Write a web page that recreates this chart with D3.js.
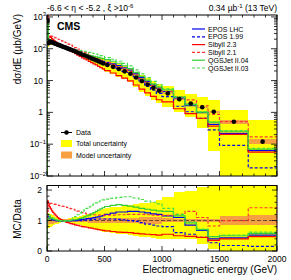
<!DOCTYPE html>
<html>
<head>
<meta charset="utf-8">
<script src="https://cdn.jsdelivr.net/npm/d3@7"></script>
<style>
	body { margin: 0; background: #fff; }
	svg text { font-family: "Liberation Sans", Arial, sans-serif; fill: #000; }
</style>
</head>
<body>
<div id="chart" style="width:291px;height:280px;"></div>
<script>
"use strict"

// bin edges (GeV)
const binEdges = [0,10,20,30,40,50,60,70,80,90,100,110,120,130,140,150,160,170,180,190,200,
	220,240,260,280,300,320,340,360,380,400,420,440,460,480,500,
	550,600,650,700,750,800,850,900,950,1000,
	1100,1200,1300,1400,1500,1750,2000];

// measured dsigma/dE (ub/GeV)
const dataValues = [750,150,168,164,158,153,148,143,139,134,130,126,122,118,114,111,107,104,100,97,
	93,87,81,75,70,65,61,57,53,49,46,43,40,37,34.5,
	31,27,23,19.5,16.3,12.5,9.6,7.5,5.9,4.8,
	3.9,2.6,1.9,1.45,1.05,
	0.51,0.12];

// total and model uncertainty, as ratio to data
const totalUp = [1.28,1.25,1.23,1.21,1.19,1.17,1.15,1.13,1.11,1.1,1.08,1.07,1.06,1.05,1.05,1.05,1.05,1.06,1.07,1.08,
	1.09,1.1,1.12,1.13,1.15,1.17,1.19,1.21,1.23,1.25,1.27,1.3,1.32,1.35,1.37,
	1.4,1.43,1.46,1.5,1.52,1.54,1.56,1.58,1.62,1.66,
	1.78,1.95,1.98,2.09,2.3,
	2.4,4.7];
const totalDown = [0.72,0.75,0.77,0.8,0.82,0.84,0.86,0.88,0.89,0.9,0.92,0.93,0.94,0.95,0.95,0.95,0.95,0.94,0.93,0.92,
	0.91,0.9,0.88,0.87,0.85,0.83,0.81,0.79,0.77,0.75,0.73,0.7,0.68,0.65,0.63,
	0.61,0.59,0.57,0.56,0.54,0.5,0.47,0.45,0.42,0.4,
	0.39,0.39,0.39,0.22,0.06,
	0,0];
const modelUp = [1.12,1.12,1.11,1.1,1.09,1.08,1.07,1.06,1.05,1.05,1.05,1.04,1.04,1.04,1.04,1.04,1.04,1.04,1.04,1.04,
	1.05,1.05,1.05,1.05,1.06,1.06,1.06,1.06,1.07,1.07,1.07,1.07,1.08,1.08,1.08,
	1.08,1.08,1.09,1.09,1.09,1.09,1.1,1.1,1.1,1.1,
	1.07,1.06,1.05,1.05,1.06,
	1.16,1.18];
const modelDown = [0.85,0.86,0.87,0.88,0.89,0.9,0.91,0.92,0.93,0.94,0.95,0.95,0.96,0.96,0.96,0.96,0.96,0.96,0.96,0.96,
	0.95,0.95,0.95,0.95,0.94,0.94,0.94,0.94,0.93,0.93,0.93,0.93,0.92,0.92,0.92,
	0.92,0.92,0.91,0.91,0.91,0.91,0.9,0.9,0.9,0.9,
	0.94,0.95,0.96,0.96,0.94,
	0.86,0.85];

// MC / data
const eposLhcRatio = [1.15,1.12,1.08,1.06,1.04,1.03,1.02,1.01,1.0,1.0,0.99,0.98,0.98,0.97,0.97,0.97,0.98,0.98,0.99,0.99,
	1.0,1.0,1.01,1.02,1.03,1.04,1.05,1.06,1.07,1.08,1.1,1.11,1.12,1.14,1.16,
	1.2,1.24,1.28,1.28,1.3,1.3,1.28,1.25,1.22,1.2,
	1.15,1.1,0.85,0.68,0.4,
	0.43,0.52];
const epos199Ratio = [1.1,1.08,1.06,1.04,1.03,1.02,1.01,1.0,1.0,1.0,1.0,1.0,1.0,0.99,0.99,0.99,1.0,1.0,1.0,1.0,
	1.0,1.0,1.0,1.0,1.0,1.01,1.01,1.02,1.02,1.03,1.04,1.05,1.05,1.05,1.05,
	1.05,1.05,1.04,1.02,1.0,0.97,0.93,0.88,0.85,0.82,
	0.8,0.6,0.55,0.45,0.27,
	0.18,0.15];
const sibyll23Ratio = [1.65,1.55,1.45,1.38,1.32,1.27,1.22,1.18,1.14,1.1,1.07,1.05,1.03,1.01,0.99,0.97,0.95,0.94,0.93,0.92,
	0.9,0.88,0.86,0.84,0.82,0.8,0.79,0.78,0.76,0.75,0.73,0.72,0.7,0.69,0.68,
	0.66,0.64,0.62,0.61,0.6,0.58,0.56,0.55,0.54,0.52,
	0.55,0.5,0.48,0.45,0.35,
	0.4,0.47];
const sibyll21Ratio = [1.3,1.5,1.55,1.56,1.56,1.55,1.54,1.53,1.52,1.51,1.5,1.49,1.48,1.47,1.46,1.45,1.44,1.43,1.42,1.41,
	1.39,1.37,1.34,1.31,1.28,1.26,1.24,1.22,1.21,1.2,1.19,1.19,1.18,1.18,1.18,
	1.18,1.18,1.19,1.19,1.2,1.2,1.2,1.19,1.18,1.17,
	1.17,1.2,1.3,1.1,0.82,
	1.0,1.42];
const qgsjet04Ratio = [1.0,1.08,1.1,1.08,1.06,1.05,1.04,1.03,1.02,1.01,1.0,1.0,1.0,0.99,0.99,0.99,0.99,1.0,1.0,1.0,
	1.01,1.02,1.03,1.05,1.07,1.09,1.12,1.15,1.18,1.22,1.26,1.3,1.34,1.38,1.42,
	1.46,1.5,1.52,1.5,1.47,1.44,1.4,1.37,1.34,1.32,
	1.3,1.15,0.92,0.7,0.47,
	0.5,0.58];
const qgsjet03Ratio = [1.2,1.18,1.15,1.12,1.1,1.08,1.06,1.04,1.02,1.01,1.0,0.99,0.98,0.97,0.97,0.97,0.98,0.98,0.99,1.0,
	1.03,1.08,1.13,1.19,1.25,1.3,1.35,1.4,1.45,1.5,1.54,1.58,1.62,1.65,1.68,
	1.7,1.73,1.76,1.78,1.78,1.74,1.69,1.64,1.6,1.55,
	1.4,1.2,0.95,0.72,0.47,
	0.52,0.62];

const models = [
	{name: "EPOS LHC", ratio: eposLhcRatio, color: "#0000ee", dash: null},
	{name: "EPOS 1.99", ratio: epos199Ratio, color: "#0000ee", dash: "3,2"},
	{name: "Sibyll 2.3", ratio: sibyll23Ratio, color: "#ff0000", dash: null},
	{name: "Sibyll 2.1", ratio: sibyll21Ratio, color: "#ff3333", dash: "3,2"},
	{name: "QGSJet II.04", ratio: qgsjet04Ratio, color: "#33cc33", dash: null},
	{name: "QGSJet II.03", ratio: qgsjet03Ratio, color: "#44dd44", dash: "3,2"},
];

const xTicks = [0, 500, 1000, 1500, 2000];
const logTicks = [{v: 1e3, b: "10", e: "3"}, {v: 1e2, b: "10", e: "2"}, {v: 10, b: "10", e: null},
	{v: 1, b: "1", e: null}, {v: 0.1, b: "10", e: "\u22121"}, {v: 0.01, b: "10", e: "\u22122"}];
const ratioTicks = [0, 1, 2];

const bins = dataValues.map((v, i) => ({
	lo: binEdges[i], hi: binEdges[i + 1], val: v,
	tUp: totalUp[i], tDn: totalDown[i], mUp: modelUp[i], mDn: modelDown[i]
}));

const svg = d3.select("#chart").append("svg").attr("width", 291).attr("height", 280);

const x = d3.scaleLinear().domain([0, 2000]).range([47, 277]);
const yTop = d3.scaleLog().domain([0.01, 1150]).range([176, 15]).clamp(true);
const yRat = d3.scaleLinear().domain([0, 2.15]).range([251, 185.5]).clamp(true);

const defs = svg.append("defs");
defs.append("clipPath").attr("id", "clipTop").append("rect")
	.attr("x", 47).attr("y", 15).attr("width", 230).attr("height", 161);
defs.append("clipPath").attr("id", "clipRat").append("rect")
	.attr("x", 47).attr("y", 185.5).attr("width", 230).attr("height", 65.5);

function stepPath(vals, y, base) {
	let p = `M${x(binEdges[0])},${base}`;
	vals.forEach((v, i) => {
		p += `L${x(binEdges[i])},${y(v)}L${x(binEdges[i + 1])},${y(v)}`;
	});
	p += `L${x(binEdges[binEdges.length - 1])},${base}`;
	return p;
}

function drawPanel(g, y, toVal, base) {
	g.selectAll(".tot").data(bins).enter().append("rect")
		.attr("x", d => x(d.lo)).attr("width", d => x(d.hi) - x(d.lo))
		.attr("y", d => y(toVal(d, d.tUp)))
		.attr("height", d => y(Math.max(toVal(d, d.tDn), 1e-6)) - y(toVal(d, d.tUp)))
		.attr("fill", "#ffff00").attr("shape-rendering", "crispEdges");
	g.selectAll(".mod").data(bins).enter().append("rect")
		.attr("x", d => x(d.lo)).attr("width", d => x(d.hi) - x(d.lo))
		.attr("y", d => y(toVal(d, d.mUp)))
		.attr("height", d => y(toVal(d, d.mDn)) - y(toVal(d, d.mUp)))
		.attr("fill", "#f7a042").attr("shape-rendering", "crispEdges");
}

// ---- top panel
const gTop = svg.append("g").attr("clip-path", "url(#clipTop)");
drawPanel(gTop, yTop, (d, r) => d.val * r);
models.forEach(m => {
	gTop.append("path")
		.attr("d", stepPath(m.ratio.map((r, i) => r * dataValues[i]), yTop, 176))
		.attr("fill", "none").attr("stroke", m.color).attr("stroke-width", 1.2)
		.attr("stroke-dasharray", m.dash);
});
gTop.selectAll(".pt").data(bins).enter().append("circle")
	.attr("cx", d => x((d.lo + d.hi) / 2)).attr("cy", d => yTop(d.val))
	.attr("r", 2.3).attr("fill", "#000");

// ---- ratio panel
const gRat = svg.append("g").attr("clip-path", "url(#clipRat)");
drawPanel(gRat, yRat, (d, r) => r);
gRat.append("line").attr("x1", 47).attr("x2", 277).attr("y1", yRat(1)).attr("y2", yRat(1))
	.attr("stroke", "#6b4a2a").attr("stroke-width", 1).attr("stroke-dasharray", "4,2");
models.forEach(m => {
	gRat.append("path")
		.attr("d", stepPath(m.ratio, yRat, 251))
		.attr("fill", "none").attr("stroke", m.color).attr("stroke-width", 1.2)
		.attr("stroke-dasharray", m.dash);
});

// ---- frames and ticks
function frame(top, bottom) {
	svg.append("rect").attr("x", 47).attr("y", top).attr("width", 230).attr("height", bottom - top)
		.attr("fill", "none").attr("stroke", "#000").attr("stroke-width", 1);
	const t = svg.append("g").attr("stroke", "#000").attr("stroke-width", 0.8);
	d3.range(0, 2001, 100).forEach(v => {
		const len = v % 500 === 0 ? 5 : 2.5;
		t.append("line").attr("x1", x(v)).attr("x2", x(v)).attr("y1", bottom).attr("y2", bottom - len);
		t.append("line").attr("x1", x(v)).attr("x2", x(v)).attr("y1", top).attr("y2", top + len);
	});
	return t;
}

const tTop = frame(15, 176);
[-2, -1, 0, 1, 2, 3].forEach(e => {
	for (let k = 1; k <= 9; k++) {
		const v = k * Math.pow(10, e);
		if (v > 1150) break;
		const len = k === 1 ? 6 : 3;
		tTop.append("line").attr("x1", 47).attr("x2", 47 + len).attr("y1", yTop(v)).attr("y2", yTop(v));
		tTop.append("line").attr("x1", 277).attr("x2", 277 - len).attr("y1", yTop(v)).attr("y2", yTop(v));
	}
});

const tRat = frame(185.5, 251);
d3.range(0, 2.11, 0.2).forEach(v => {
	const len = Math.abs(v - Math.round(v)) < 1e-6 ? 5 : 2.5;
	tRat.append("line").attr("x1", 47).attr("x2", 47 + len).attr("y1", yRat(v)).attr("y2", yRat(v));
	tRat.append("line").attr("x1", 277).attr("x2", 277 - len).attr("y1", yRat(v)).attr("y2", yRat(v));
});

// ---- tick labels
logTicks.forEach(t => {
	const txt = svg.append("text").attr("x", t.e ? 46 : 43).attr("y", yTop(t.v) + 3)
		.attr("text-anchor", "end").attr("font-size", 8.5).text(t.b);
	if (t.e) txt.append("tspan").attr("dy", -3.5).attr("font-size", 6).text(t.e);
});
ratioTicks.forEach(v => {
	svg.append("text").attr("x", 42).attr("y", yRat(v) + 3).attr("text-anchor", "end")
		.attr("font-size", 8.5).text(v);
});
xTicks.forEach(v => {
	svg.append("text").attr("x", x(v)).attr("y", 262).attr("text-anchor", "middle")
		.attr("font-size", 8.5).text(v);
});

// ---- titles
svg.append("text").attr("x", 277).attr("y", 273).attr("text-anchor", "end")
	.attr("font-size", 10).text("Electromagnetic energy (GeV)");
svg.append("text").attr("transform", "translate(21,14)rotate(-90)").attr("text-anchor", "end")
	.attr("font-size", 10).text("d\u03c3/dE (\u00b5b/GeV)");
svg.append("text").attr("transform", "translate(21,219)rotate(-90)").attr("text-anchor", "middle")
	.attr("font-size", 10).text("MC/Data");

const hdr = svg.append("text").attr("x", 47).attr("y", 11).attr("font-size", 8.5)
	.text("-6.6 < \u03b7 < -5.2 , \u03be >10");
hdr.append("tspan").attr("dy", -3.5).attr("font-size", 6).text("-6");
const lumi = svg.append("text").attr("x", 277).attr("y", 11).attr("text-anchor", "end").attr("font-size", 8.5)
	.text("0.34 \u00b5b");
lumi.append("tspan").attr("dy", -3.5).attr("font-size", 6).text("-1");
lumi.append("tspan").attr("dy", 3.5).text(" (13 TeV)");

svg.append("text").attr("x", 57).attr("y", 30).attr("font-size", 10.5).attr("font-weight", "bold").text("CMS");

// ---- legends
const leg = svg.append("g");
models.forEach((m, i) => {
	const yy = 29 + i * 7.8;
	leg.append("line").attr("x1", 192).attr("x2", 205).attr("y1", yy).attr("y2", yy)
		.attr("stroke", m.color).attr("stroke-width", 1.2).attr("stroke-dasharray", m.dash);
	leg.append("text").attr("x", 208).attr("y", yy + 2.5).attr("font-size", 7).text(m.name);
});

const leg2 = svg.append("g");
leg2.append("line").attr("x1", 61).attr("x2", 72).attr("y1", 132.5).attr("y2", 132.5)
	.attr("stroke", "#000").attr("stroke-width", 1);
leg2.append("circle").attr("cx", 66.5).attr("cy", 132.5).attr("r", 2.3).attr("fill", "#000");
leg2.append("text").attr("x", 76).attr("y", 135).attr("font-size", 7).text("Data");
leg2.append("rect").attr("x", 61).attr("y", 140).attr("width", 11).attr("height", 7).attr("fill", "#ffff00");
leg2.append("text").attr("x", 76).attr("y", 146).attr("font-size", 7).text("Total uncertainty");
leg2.append("rect").attr("x", 61).attr("y", 151.5).attr("width", 11).attr("height", 7).attr("fill", "#f7a042");
leg2.append("text").attr("x", 76).attr("y", 157.5).attr("font-size", 7).text("Model uncertainty");
</script>
</body>
</html>
